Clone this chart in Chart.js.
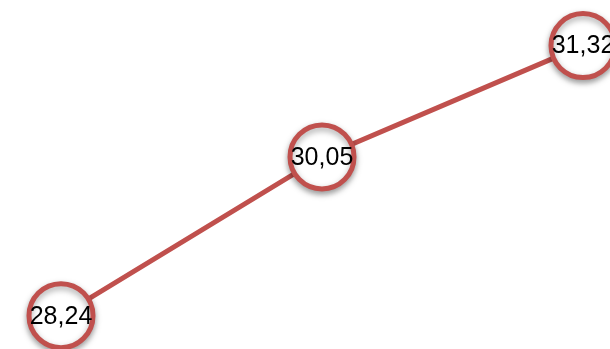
<!DOCTYPE html>
<html>
<head>
<meta charset="utf-8">
<script src="https://cdn.jsdelivr.net/npm/chart.js@4/dist/chart.umd.min.js"></script>
<style>
  html, body { margin: 0; padding: 0; background: #fff; }
  #wrap { width: 610px; height: 349px; }
</style>
</head>
<body>
<div id="wrap"><canvas id="myChart"></canvas></div>
<script>
var labels = ["1", "2", "3"];
var values = [28.24, 30.05, 31.32];

// shadow under the markers only
var shadowPlugin = {
    id: 'shadow',
    beforeDatasetDraw: function (chart, args) {
        if (args.index === 1) {
            chart.ctx.save();
            chart.ctx.shadowColor = 'rgba(0,0,0,0.35)';
            chart.ctx.shadowBlur = 6;
            chart.ctx.shadowOffsetY = 3;
        }
    },
    afterDatasetDraw: function (chart, args) {
        if (args.index === 1) chart.ctx.restore();
    }
};

// value labels inside the circles
var labelPlugin = {
    id: 'valueLabels',
    afterDatasetsDraw: function (chart) {
        var ctx = chart.ctx;
        var meta = chart.getDatasetMeta(1);
        ctx.save();
        ctx.font = '25px "Liberation Sans", Arial, sans-serif';
        ctx.fillStyle = '#000';
        ctx.textAlign = 'center';
        ctx.textBaseline = 'middle';
        meta.data.forEach(function (pt, i) {
            ctx.fillText(values[i].toFixed(2).replace('.', ','), pt.x, pt.y + 1);
        });
        ctx.restore();
    }
};

var ctx = document.getElementById('myChart').getContext('2d');
var chart = new Chart(ctx, {
    type: 'line',
    data: {
        labels: labels,
        datasets: [{
            data: values,
            borderColor: '#C0504D',
            borderWidth: 5,
            pointRadius: 0,
            fill: false,
            tension: 0,
            order: 2,
            clip: false
        }, {
            data: values,
            showLine: false,
            pointRadius: 32,
            pointBorderWidth: 5,
            pointBorderColor: '#C0504D',
            pointBackgroundColor: '#fff',
            order: 1,
            clip: false
        }]
    },
    options: {
        responsive: true,
        maintainAspectRatio: false,
        animation: false,
        layout: { autoPadding: false, padding: { left: 61, right: 27, top: 0, bottom: 0 } },
        plugins: { legend: { display: false }, tooltip: { enabled: false } },
        scales: {
            x: { display: false, offset: false },
            y: { display: false, min: 27.86, max: 31.84 }
        }
    },
    plugins: [shadowPlugin, labelPlugin]
});
</script>
</body>
</html>
